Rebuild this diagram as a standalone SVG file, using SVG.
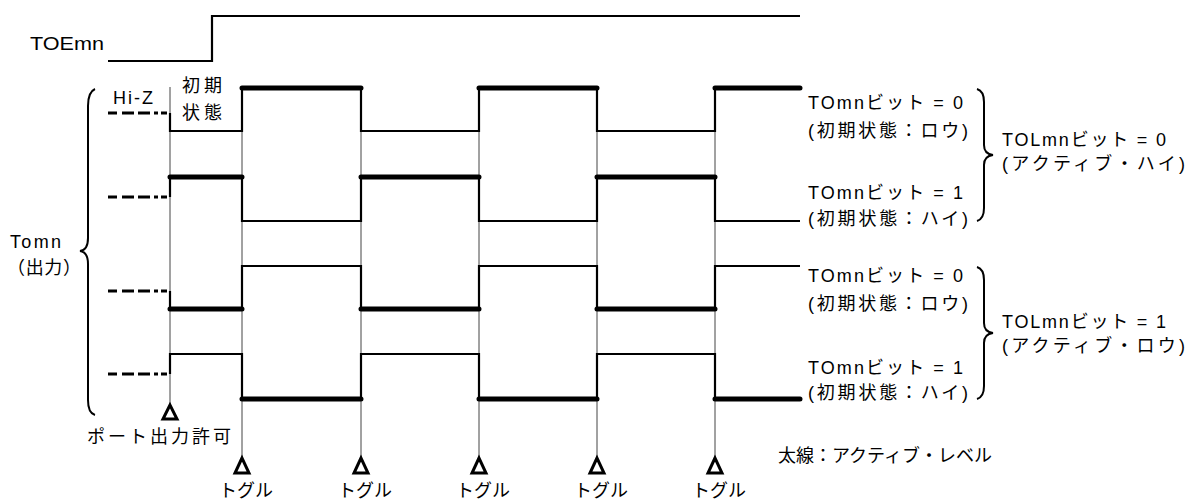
<svg xmlns="http://www.w3.org/2000/svg" width="1186" height="502" viewBox="0 0 1186 502">
<style>
text{font-family:"Liberation Sans","Noto Sans CJK JP",sans-serif;font-size:18px;fill:#000}
.grid{stroke:#444;stroke-width:1;fill:none}
.wave{stroke:#000;stroke-width:2.2;fill:none;stroke-linejoin:miter}
.thick{stroke:#000;stroke-width:5;stroke-linecap:round;fill:none}
.dash{stroke:#000;stroke-width:3;fill:none;stroke-dasharray:9 5 12 4 12 4 4 3 6 20}
.tri{stroke:#000;stroke-width:3;fill:#fff;stroke-linejoin:miter}
.brace{stroke:#000;stroke-width:2;fill:none}
</style>
<rect width="1186" height="502" fill="#fff"/>
<g id="toe">
<path class="wave" d="M108,61 H212 V16 H800"/>
<text x="30" y="50" font-size="20" textLength="74" lengthAdjust="spacingAndGlyphs">TOEmn</text>
</g>
<g id="connectors">
<path class="grid" d="M170,87 V405 M242,88 V458 M361,88 V458 M479,88 V458 M597,88 V458 M715,88 V458"/>
</g>
<g id="wave-1">
<path class="dash" d="M108,113 H170"/>
<path class="wave" d="M170,113 V131 H242 V88 H361 V131 H479 V88 H597 V131 H715 V88 H800"/>
<path class="thick" d="M242,88 H361 M479,88 H597 M715,88 H800"/>
</g>
<g id="wave-2">
<path class="dash" d="M108,197 H170"/>
<path class="wave" d="M170,197 V177 H242 V221 H361 V177 H479 V221 H597 V177 H715 V221 H800"/>
<path class="thick" d="M170,177 H242 M361,177 H479 M597,177 H715"/>
</g>
<g id="wave-3">
<path class="dash" d="M108,291 H170"/>
<path class="wave" d="M170,291 V309 H242 V266 H361 V309 H479 V266 H597 V309 H715 V266 H800"/>
<path class="thick" d="M170,309 H242 M361,309 H479 M597,309 H715"/>
</g>
<g id="wave-4">
<path class="dash" d="M108,374 H170"/>
<path class="wave" d="M170,374 V354 H242 V399 H361 V354 H479 V399 H597 V354 H715 V399 H800"/>
<path class="thick" d="M242,399 H361 M479,399 H597 M715,399 H800"/>
</g>
<g id="left-labels">
<text x="113" y="104" textLength="40" lengthAdjust="spacing">Hi-Z</text>
<text x="182" y="92" textLength="40" lengthAdjust="spacing">初期</text>
<text x="182" y="119" textLength="40" lengthAdjust="spacing">状態</text>
<path class="brace" d="M95,89 Q88,92 88,106 V238 Q88,250 80,251 Q88,252 88,264 V400 Q88,413 95,415"/>
<text x="10" y="248" font-size="19" textLength="51" lengthAdjust="spacing">Tomn</text>
<text x="7" y="274" textLength="74" lengthAdjust="spacing">（出力）</text>
</g>
<g id="port-enable">
<path class="tri" d="M170,405 L163,419 H177 Z"/>
<text x="87" y="443" textLength="144" lengthAdjust="spacing">ポート出力許可</text>
</g>
<g id="toggles">
<path class="tri" d="M242,458 L235,473 H249 Z M361,458 L354,473 H368 Z M479,458 L472,473 H486 Z M597,458 L590,473 H604 Z M715,458 L708,473 H722 Z"/>
<text x="219" y="497" textLength="54" lengthAdjust="spacing">トグル</text>
<text x="338" y="497" textLength="54" lengthAdjust="spacing">トグル</text>
<text x="456" y="497" textLength="54" lengthAdjust="spacing">トグル</text>
<text x="574" y="497" textLength="54" lengthAdjust="spacing">トグル</text>
<text x="692" y="497" textLength="54" lengthAdjust="spacing">トグル</text>
</g>
<g id="legend">
<text x="778" y="462" font-size="14">太線：アクティブ・レベル</text>
</g>
<g id="group-tol0">
<text x="808" y="109" textLength="155" lengthAdjust="spacing">TOmnビット = 0</text>
<text x="808" y="137" textLength="160" lengthAdjust="spacing">(初期状態：ロウ)</text>
<text x="808" y="199" textLength="155" lengthAdjust="spacing">TOmnビット = 1</text>
<text x="808" y="225" textLength="160" lengthAdjust="spacing">(初期状態：ハイ)</text>
<path class="brace" d="M977,89 Q984,91 984,102 V145 Q984,154 993,155 Q984,156 984,165 V208 Q984,219 977,221"/>
<text x="1002" y="146" textLength="164" lengthAdjust="spacing">TOLmnビット = 0</text>
<text x="1002" y="170" textLength="183" lengthAdjust="spacing">(アクティブ・ハイ)</text>
</g>
<g id="group-tol1">
<text x="808" y="282" textLength="155" lengthAdjust="spacing">TOmnビット = 0</text>
<text x="808" y="310" textLength="160" lengthAdjust="spacing">(初期状態：ロウ)</text>
<text x="808" y="374" textLength="155" lengthAdjust="spacing">TOmnビット = 1</text>
<text x="808" y="399" textLength="160" lengthAdjust="spacing">(初期状態：ハイ)</text>
<path class="brace" d="M977,267 Q984,269 984,280 V323 Q984,332 993,333 Q984,334 984,343 V386 Q984,397 977,399"/>
<text x="1002" y="328" textLength="164" lengthAdjust="spacing">TOLmnビット = 1</text>
<text x="1002" y="352" textLength="183" lengthAdjust="spacing">(アクティブ・ロウ)</text>
</g>
</svg>
